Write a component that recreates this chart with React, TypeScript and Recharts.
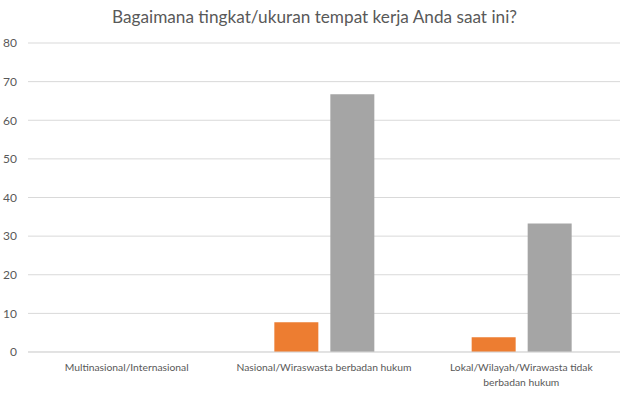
import React from 'react';
import { BarChart, Bar, XAxis, YAxis, CartesianGrid } from 'recharts';

// categories on the x axis
const categories = [
  'Multinasional/Internasional',
  'Nasional/Wiraswasta berbadan hukum',
  'Lokal/Wilayah/Wirawasta tidak berbadan hukum',
];

// bar values per series
const orangeValues = [0, 7.7, 3.8];
const grayValues = [0, 66.7, 33.3];

const yTicks = [0, 10, 20, 30, 40, 50, 60, 70, 80];

const title = 'Bagaimana tingkat/ukuran tempat kerja Anda saat ini?';

const FONT = 'Lato, "Open Sans", sans-serif';
const TEXT_COLOR = '#595959';

const data = categories.map((name, i) => ({
  name,
  orange: orangeValues[i],
  gray: grayValues[i],
}));

// long labels get wrapped into lines of at most 30 chars
const wrapLabel = (label: string): string[] => {
  if (label.length <= 40) return [label];
  const lines: string[] = [];
  let current = '';
  label.split(' ').forEach(word => {
    const next = current ? current + ' ' + word : word;
    if (next.length > 30 && current) {
      lines.push(current);
      current = word;
    } else {
      current = next;
    }
  });
  if (current) lines.push(current);
  return lines;
};

const CategoryTick = (props: any) => {
  const { x, y, payload } = props;
  const lines = wrapLabel(payload.value);
  return (
    <text
      x={x}
      y={y + 11}
      textAnchor="middle"
      fill={TEXT_COLOR}
      fontSize={10.3}
      fontFamily={FONT}
    >
      {lines.map((line, i) => (
        <tspan key={i} x={x} dy={i === 0 ? 0 : 15}>
          {line}
        </tspan>
      ))}
    </text>
  );
};

const App: React.FC = () => {
  return (
    <div style={{ position: 'absolute', left: 0, top: 0, width: 629, height: 394, background: '#fff' }}>
      <div
        style={{
          position: 'absolute',
          left: 0,
          top: 6,
          width: 629,
          textAlign: 'center',
          fontFamily: FONT,
          fontSize: 17.2,
          color: TEXT_COLOR,
        }}
      >
        {title}
      </div>
      <BarChart
        width={629}
        height={394}
        data={data}
        margin={{ top: 43, right: 9, left: 0, bottom: 0 }}
        barSize={44}
        barGap={12}
      >
        <CartesianGrid vertical={false} stroke="#D9D9D9" />
        <XAxis
          dataKey="name"
          height={42}
          axisLine={{ stroke: '#D9D9D9' }}
          tickLine={false}
          tick={<CategoryTick />}
          interval={0}
        />
        <YAxis
          width={28}
          domain={[0, 80]}
          ticks={yTicks}
          axisLine={false}
          tickLine={false}
          tickSize={0}
          tickMargin={11}
          tick={{ fill: TEXT_COLOR, fontSize: 12, fontFamily: FONT }}
        />
        <Bar dataKey="orange" fill="#ED7D31" isAnimationActive={false} />
        <Bar dataKey="gray" fill="#A5A5A5" isAnimationActive={false} />
      </BarChart>
    </div>
  );
};

export default App;
